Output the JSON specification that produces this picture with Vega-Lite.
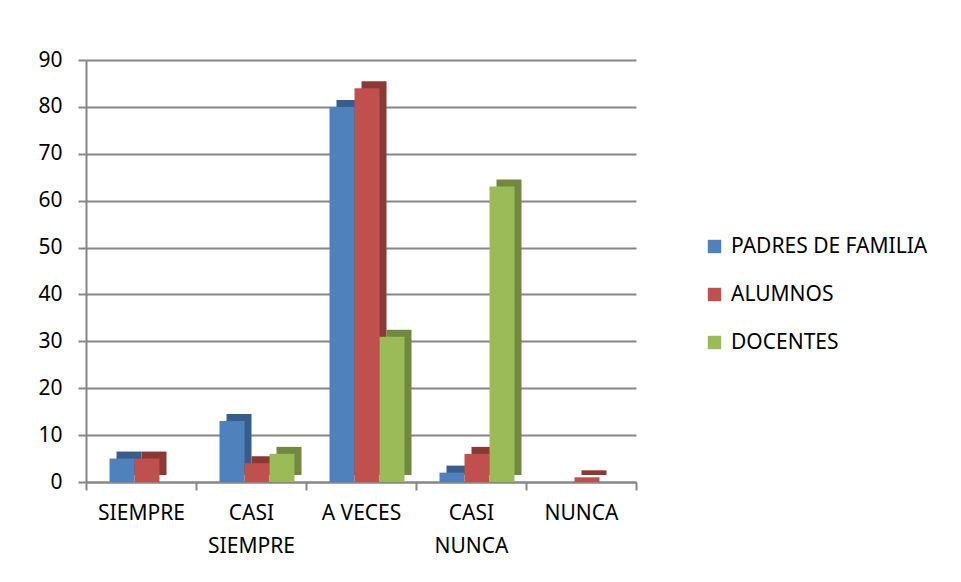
{
  "$schema": "https://vega.github.io/schema/vega-lite/v6.json",
  "width": 550,
  "height": 422,
  "autosize": {"type": "none"},
  "padding": {"left": 86, "top": 60, "right": 325, "bottom": 100},
  "background": "white",
  "config": {
    "view": {"stroke": null},
    "font": "Noto Sans",
    "axis": {"labelFont": "Noto Sans", "labelColor": "#000000"},
    "legend": {"labelFont": "Noto Sans"}
  },
  "data": {
    "values": [
      {"cat": "SIEMPRE", "serie": "PADRES DE FAMILIA", "valor": 5},
      {"cat": "SIEMPRE", "serie": "ALUMNOS", "valor": 5},
      {"cat": "SIEMPRE", "serie": "DOCENTES", "valor": 0},
      {"cat": "CASI SIEMPRE", "serie": "PADRES DE FAMILIA", "valor": 13},
      {"cat": "CASI SIEMPRE", "serie": "ALUMNOS", "valor": 4},
      {"cat": "CASI SIEMPRE", "serie": "DOCENTES", "valor": 6},
      {"cat": "A VECES", "serie": "PADRES DE FAMILIA", "valor": 80},
      {"cat": "A VECES", "serie": "ALUMNOS", "valor": 84},
      {"cat": "A VECES", "serie": "DOCENTES", "valor": 31},
      {"cat": "CASI NUNCA", "serie": "PADRES DE FAMILIA", "valor": 2},
      {"cat": "CASI NUNCA", "serie": "ALUMNOS", "valor": 6},
      {"cat": "CASI NUNCA", "serie": "DOCENTES", "valor": 63},
      {"cat": "NUNCA", "serie": "PADRES DE FAMILIA", "valor": 0},
      {"cat": "NUNCA", "serie": "ALUMNOS", "valor": 1},
      {"cat": "NUNCA", "serie": "DOCENTES", "valor": 0}
    ]
  },
  "encoding": {
    "x": {
      "field": "cat",
      "type": "nominal",
      "sort": ["SIEMPRE", "CASI SIEMPRE", "A VECES", "CASI NUNCA", "NUNCA"],
      "scale": {"paddingInner": 0, "paddingOuter": 0},
      "axis": {
        "title": null,
        "labelAngle": 0,
        "labelFontSize": 21,
        "labelPadding": 12,
        "labelLineHeight": 33,
        "labelBaseline": "top",
        "labelExpr": "datum.value == 'CASI SIEMPRE' ? ['CASI', 'SIEMPRE'] : datum.value == 'CASI NUNCA' ? ['CASI', 'NUNCA'] : datum.value",
        "domainColor": "#868686",
        "domainWidth": 2,
        "tickColor": "#868686",
        "tickWidth": 2,
        "tickSize": 8,
        "tickBand": "extent",
        "grid": false
      }
    },
    "y": {
      "field": "valor",
      "type": "quantitative",
      "scale": {"domain": [0, 90], "nice": false},
      "axis": {
        "title": null,
        "values": [0, 10, 20, 30, 40, 50, 60, 70, 80, 90],
        "labelFontSize": 21,
        "labelPadding": 16,
        "domainColor": "#868686",
        "domainWidth": 2,
        "tickColor": "#868686",
        "tickWidth": 2,
        "tickSize": 8,
        "gridColor": "#868686",
        "gridWidth": 2
      }
    }
  },
  "layer": [
    {
      "mark": {"type": "bar", "yOffset": -7, "clip": false},
      "encoding": {
        "xOffset": {
          "field": "serie",
          "type": "nominal",
          "sort": ["PADRES DE FAMILIA", "ALUMNOS", "DOCENTES"],
          "scale": {"range": [13, 123], "paddingInner": 0, "paddingOuter": 0.7}
        },
        "color": {
          "field": "serie",
          "type": "nominal",
          "sort": ["PADRES DE FAMILIA", "ALUMNOS", "DOCENTES"],
          "scale": {"range": ["#385D8A", "#8C3836", "#71893F"]},
          "legend": null
        }
      }
    },
    {
      "mark": {"type": "bar"},
      "encoding": {
        "xOffset": {
          "field": "serie",
          "type": "nominal",
          "sort": ["PADRES DE FAMILIA", "ALUMNOS", "DOCENTES"],
          "scale": {"range": [6, 116], "paddingInner": 0, "paddingOuter": 0.7}
        },
        "color": {
          "field": "serie",
          "type": "nominal",
          "sort": ["PADRES DE FAMILIA", "ALUMNOS", "DOCENTES"],
          "scale": {"range": ["#4F81BD", "#C0504D", "#9BBB59"]},
          "legend": {
            "title": null,
            "orient": "none",
            "legendX": 618,
            "legendY": 176,
            "symbolType": "square",
            "symbolSize": 180,
            "symbolStrokeWidth": 0,
            "labelFontSize": 21,
            "labelLimit": 340,
            "labelColor": "#000000",
            "rowPadding": 26,
            "labelOffset": 6
          }
        }
      }
    }
  ],
  "resolve": {"scale": {"color": "independent", "xOffset": "independent"}}
}
